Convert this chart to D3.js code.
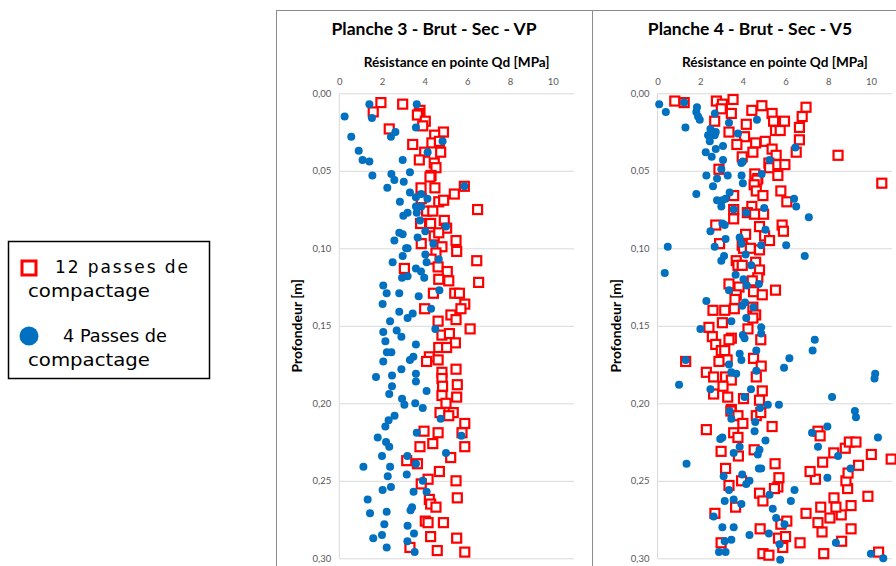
<!DOCTYPE html>
<html>
<head>
<meta charset="utf-8">
<script src="https://cdn.jsdelivr.net/npm/d3@7"></script>
<style>
  body { margin: 0; background: #fff; }
  svg { display: block; font-family: "Lato", "Liberation Sans", sans-serif; }
</style>
</head>
<body>
<svg id="chart" width="896" height="566"></svg>
<script>
// ---- data : [Qd (MPa), profondeur (m)] ----
var planche3_12passes = [
  [1.95,0.006],[2.97,0.007],[1.59,0.012],[3.78,0.011],[3.75,0.013],[3.66,0.014],[4.03,0.018],[3.91,0.021],
  [2.34,0.023],[4.88,0.025],[4.47,0.027],[4.34,0.032],[4.69,0.031],[3.44,0.033],[4.00,0.038],[4.75,0.038],
  [3.75,0.043],[4.45,0.045],[4.53,0.048],[4.30,0.053],[4.25,0.054],[3.83,0.061],[4.48,0.061],[5.86,0.060],
  [5.39,0.065],[4.66,0.070],[4.89,0.069],[3.84,0.068],[6.48,0.075],[4.09,0.076],[4.38,0.076],[4.92,0.082],
  [3.81,0.084],[4.28,0.084],[5.03,0.087],[4.45,0.092],[4.66,0.090],[5.47,0.095],[3.84,0.097],[4.81,0.099],
  [5.50,0.102],[4.53,0.103],[4.30,0.107],[6.44,0.108],
  [3.05,0.113],[4.63,0.112],[5.06,0.115],[4.66,0.120],[5.13,0.121],[6.53,0.122],[4.41,0.129],[5.41,0.129],
  [5.63,0.129],[5.88,0.136],[5.70,0.139],[4.00,0.139],[5.23,0.143],[5.47,0.146],[4.63,0.147],[6.13,0.152],
  [4.81,0.156],[5.16,0.155],[5.44,0.161],[4.66,0.164],[5.03,0.164],[4.22,0.170],[4.09,0.173],[4.63,0.172],
  [5.47,0.178],[4.81,0.180],[4.81,0.184],[5.53,0.188],[4.84,0.189],[4.81,0.195],[5.50,0.196],
  [5.00,0.200],[4.72,0.206],[5.34,0.206],[5.13,0.208],[5.88,0.213],[3.97,0.218],[4.63,0.219],[5.75,0.219],
  [4.38,0.226],[3.78,0.228],[5.88,0.228],[5.22,0.235],[3.16,0.237],[3.66,0.239],[4.69,0.244],[4.16,0.249],
  [5.47,0.250],[3.84,0.252],[5.53,0.261],[4.22,0.262],[4.28,0.265],[4.53,0.267],[4.03,0.276],[4.16,0.277],
  [4.88,0.277],[4.28,0.286],[5.50,0.287],[3.31,0.293],[4.59,0.295],[5.88,0.296]
];
var planche3_4passes = [
  [1.41,0.007],[0.25,0.015],[1.53,0.016],[3.63,0.007],[3.59,0.022],[0.56,0.028],[2.42,0.028],[2.63,0.025],
  [4.84,0.031],[0.91,0.037],[4.14,0.038],[1.09,0.043],[1.41,0.044],[2.97,0.043],[1.55,0.053],[2.44,0.052],
  [3.31,0.051],[2.58,0.056],[2.25,0.061],[3.02,0.057],[3.31,0.064],[3.59,0.067],[3.84,0.065],[4.13,0.068],
  [2.84,0.070],[3.59,0.073],[3.84,0.073],[3.20,0.077],[3.00,0.079],[3.63,0.077],[3.78,0.082],[5.00,0.086],
  [4.03,0.089],[2.81,0.090],[2.97,0.091],[2.58,0.095],[3.67,0.093],[4.41,0.097],[3.20,0.100],[3.13,0.100],
  [5.86,0.060],
  [2.97,0.105],[4.03,0.104],[2.50,0.109],[4.09,0.109],[3.59,0.113],[3.83,0.115],[3.98,0.119],[2.94,0.119],
  [3.20,0.118],[4.69,0.127],[2.06,0.124],[2.22,0.129],[2.81,0.129],[3.72,0.131],[2.03,0.136],[2.81,0.141],
  [3.20,0.145],[3.44,0.142],[4.30,0.139],[2.38,0.147],[4.50,0.152],[2.06,0.154],[2.69,0.153],[2.91,0.157],
  [2.16,0.160],[3.59,0.162],[2.23,0.167],[2.44,0.167],[3.31,0.172],[3.47,0.170],[2.06,0.173],[2.91,0.178],
  [1.72,0.183],[2.47,0.182],[3.59,0.181],[3.59,0.186],[2.47,0.189],[4.09,0.192],[2.34,0.194],[2.94,0.197],
  [4.66,0.107],
  [3.05,0.201],[3.56,0.200],[3.91,0.203],[2.59,0.208],[4.75,0.210],[2.31,0.211],[2.16,0.215],[3.63,0.219],
  [1.80,0.222],[5.72,0.221],[2.19,0.225],[2.34,0.228],[5.00,0.232],[2.00,0.234],[3.19,0.234],[3.59,0.239],
  [1.13,0.241],[2.38,0.241],[3.16,0.246],[2.27,0.247],[3.91,0.250],[2.42,0.254],[2.03,0.256],[3.48,0.257],
  [4.09,0.257],[1.33,0.262],[3.41,0.267],[3.34,0.269],[1.44,0.271],[2.22,0.270],[2.11,0.278],[3.20,0.279],
  [3.50,0.284],[2.00,0.285],[1.59,0.287],[3.19,0.289],[2.22,0.293],[3.53,0.296]
];
var planche4_12passes = [
  [0.81,0.005],[1.25,0.006],[2.76,0.005],[3.04,0.007],[3.54,0.004],[2.99,0.010],[3.46,0.013],[4.42,0.011],
  [4.89,0.008],[5.37,0.013],[6.96,0.009],[6.78,0.015],[5.44,0.018],[5.95,0.018],[2.68,0.018],[4.16,0.020],
  [5.53,0.024],[5.75,0.024],[3.35,0.025],[4.08,0.028],[6.65,0.022],[6.65,0.030],[4.60,0.032],[5.05,0.031],
  [3.72,0.033],[5.37,0.036],[4.47,0.038],[5.56,0.040],[6.50,0.038],[8.46,0.040],[3.97,0.041],[5.22,0.045],
  [5.25,0.048],[5.64,0.046],[5.97,0.046],[2.88,0.049],[4.56,0.052],[4.70,0.055],[4.66,0.056],[4.53,0.059],
  [5.64,0.053],[10.51,0.058],[4.63,0.063],[4.94,0.066],[3.57,0.066],[5.78,0.063],[6.06,0.070],[4.42,0.073],
  [3.57,0.075],[4.21,0.077],[4.55,0.078],[4.97,0.078],[3.57,0.081],[2.73,0.085],[4.78,0.086],[5.84,0.085],
  [5.90,0.089],[4.13,0.091],[5.02,0.092],
  [2.91,0.097],[3.97,0.098],[4.03,0.100],[4.35,0.100],[4.78,0.101],[5.25,0.095],[3.69,0.108],[3.77,0.111],
  [3.97,0.111],[4.60,0.109],[4.78,0.114],[4.70,0.119],[4.44,0.121],[3.35,0.123],[3.82,0.125],[3.69,0.130],
  [3.63,0.133],[4.50,0.128],[4.91,0.130],[5.53,0.127],[3.60,0.139],[2.60,0.140],[3.15,0.140],[4.47,0.138],
  [4.60,0.143],[4.47,0.145],[3.04,0.148],[2.41,0.151],[4.24,0.152],[2.57,0.157],[2.73,0.162],[3.46,0.158],
  [3.35,0.159],[4.84,0.159],[2.99,0.166],[3.15,0.166],[3.26,0.172],[2.88,0.173],[4.50,0.171],[4.86,0.176],
  [1.32,0.173],[2.29,0.180],[2.63,0.183],[3.19,0.183],[3.46,0.185],[4.63,0.183],[3.07,0.189],[4.91,0.192],
  [2.63,0.194],[3.29,0.196],[4.03,0.197],[4.78,0.198],
  [3.46,0.204],[3.44,0.205],[3.77,0.208],[4.00,0.213],[4.63,0.208],[4.84,0.206],[5.37,0.215],[2.29,0.217],
  [3.57,0.219],[3.77,0.222],[2.98,0.231],[3.79,0.234],[4.53,0.230],[5.51,0.239],[3.19,0.242],[3.35,0.253],
  [3.94,0.250],[5.69,0.248],[5.64,0.254],[5.48,0.255],[4.78,0.258],[4.94,0.263],[3.66,0.267],[2.69,0.271],
  [4.81,0.281],[5.78,0.278],[6.06,0.276],[5.67,0.287],[6.00,0.286],[5.87,0.293],[2.98,0.290],[4.94,0.297],
  [5.22,0.298],[6.68,0.290],[7.79,0.297],[8.63,0.289],[9.07,0.281],[7.71,0.283],[7.52,0.277],[8.08,0.274],
  [8.61,0.272],[6.96,0.271],[7.65,0.267],[8.27,0.261],[8.36,0.267],[9.07,0.266],[9.86,0.260],[8.91,0.255],
  [8.83,0.250],[8.93,0.245],[7.40,0.249],[7.15,0.244],[7.74,0.238],[9.42,0.240],[8.26,0.232],[8.80,0.229],
  [8.99,0.225],[9.30,0.225],[10.02,0.233],[10.95,0.236],[7.52,0.218],[7.62,0.221],[10.36,0.296]
];
var planche4_4passes = [
  [0.08,0.007],[0.39,0.012],[1.25,0.006],[1.85,0.009],[1.82,0.012],[1.90,0.015],[1.98,0.017],[2.69,0.013],
  [3.35,0.019],[4.66,0.017],[1.31,0.022],[2.48,0.023],[2.37,0.027],[2.68,0.027],[2.73,0.025],[2.45,0.031],
  [3.77,0.026],[3.07,0.034],[2.73,0.036],[2.26,0.038],[2.54,0.041],[3.07,0.043],[3.93,0.045],[4.00,0.044],
  [6.46,0.035],[5.25,0.043],[2.29,0.053],[2.79,0.055],[3.29,0.053],[3.94,0.053],[4.00,0.058],[2.60,0.060],
  [2.99,0.049],[4.88,0.052],[1.82,0.065],[3.38,0.064],[2.79,0.069],[3.04,0.069],[3.19,0.068],[2.99,0.073],
  [3.57,0.075],[4.16,0.077],[5.00,0.074],[6.40,0.068],[6.50,0.073],[7.09,0.080],[3.04,0.084],[3.15,0.085],
  [2.48,0.089],[3.19,0.094],[3.85,0.093],[5.06,0.088],[3.94,0.097],
  [0.48,0.099],[2.68,0.099],[4.86,0.098],[6.03,0.098],[6.90,0.105],[3.12,0.105],[2.99,0.108],[4.13,0.104],
  [4.39,0.111],[0.34,0.116],[3.66,0.117],[4.03,0.120],[4.19,0.124],[4.75,0.123],[3.35,0.127],[2.29,0.134],
  [4.10,0.135],[3.97,0.137],[4.50,0.138],[3.46,0.147],[4.16,0.145],[2.01,0.152],[4.86,0.151],[4.86,0.155],
  [4.00,0.156],[4.08,0.158],[7.37,0.159],[7.27,0.166],[4.63,0.166],[3.85,0.168],[3.93,0.172],[6.18,0.171],
  [5.93,0.177],[1.32,0.172],[3.35,0.175],[3.69,0.181],[4.63,0.179],[1.01,0.188],[2.48,0.191],[4.38,0.191],
  [4.08,0.196],[10.20,0.181],[10.17,0.184],[8.18,0.196],[3.46,0.180],
  [5.17,0.201],[5.69,0.201],[4.81,0.203],[3.38,0.205],[3.46,0.210],[4.58,0.212],[4.55,0.218],[2.94,0.223],
  [3.04,0.222],[5.06,0.224],[3.85,0.228],[4.78,0.230],[4.70,0.233],[3.57,0.232],[1.36,0.239],[4.75,0.242],
  [4.86,0.242],[3.97,0.246],[4.31,0.250],[4.16,0.252],[3.10,0.247],[3.35,0.256],[5.25,0.259],[6.42,0.256],
  [3.57,0.262],[3.15,0.263],[3.93,0.265],[6.25,0.263],[5.40,0.268],[5.56,0.274],[5.95,0.278],[2.63,0.273],
  [3.04,0.280],[3.57,0.280],[4.31,0.285],[5.22,0.284],[3.46,0.288],[3.15,0.289],[5.72,0.291],[2.88,0.296],
  [3.19,0.296],[5.75,0.301],[7.24,0.219],[7.96,0.215],[7.52,0.228],[8.46,0.234],[7.96,0.248],[9.05,0.242],
  [10.33,0.222],[9.25,0.205],[9.30,0.209],[8.36,0.290],[10.00,0.297],[10.58,0.300]
];

var titles = ["Planche 3 - Brut - Sec - VP", "Planche 4 - Brut - Sec - V5"];
var xTicks = [0, 2, 4, 6, 8, 10];
var yTicks = [0, 0.05, 0.10, 0.15, 0.20, 0.25, 0.30];
var legendLabels = [["12  passes  de", "compactage"], ["4 Passes de", "compactage"]];

var red = "#ff0000", blue = "#0070c0";

var panels = [
  { title: titles[0], left: 276, plotLeft: 339.3, p12: planche3_12passes, p4: planche3_4passes },
  { title: titles[1], left: 592, plotLeft: 657.5, p12: planche4_12passes, p4: planche4_4passes }
];

var svg = d3.select("#chart");
var fmtY = function(d) { return d3.format(".2f")(d).replace(".", ","); };

panels.forEach(function(p) {
  var g = svg.append("g");

  // chart frame
  g.append("rect")
    .attr("x", p.left + 0.5).attr("y", 10.5)
    .attr("width", 316).attr("height", 600)
    .attr("fill", "none").attr("stroke", "#8c8c8c");

  var x = d3.scaleLinear().domain([0, 11]).range([p.plotLeft, p.plotLeft + 11 * 21.34]);
  var y = d3.scaleLinear().domain([0, 0.3]).range([93.3, 558.3]);

  // gridlines
  g.append("g")
    .attr("transform", "translate(" + p.plotLeft + ",0)")
    .call(d3.axisLeft(y).tickValues(yTicks).tickSize(-(x.range()[1] - x.range()[0])).tickFormat(""))
    .call(function(s) { s.select(".domain").remove(); })
    .selectAll("line").attr("stroke", "#d9d9d9");

  // left axis line
  g.append("line")
    .attr("x1", p.plotLeft).attr("x2", p.plotLeft)
    .attr("y1", y(0)).attr("y2", y(0.3))
    .attr("stroke", "#d9d9d9");

  // y ticks
  var ya = g.append("g")
    .attr("transform", "translate(" + p.plotLeft + ",0)")
    .call(d3.axisLeft(y).tickValues(yTicks).tickSize(0).tickPadding(8).tickFormat(fmtY));
  ya.select(".domain").remove();
  ya.selectAll("text").attr("fill", "#595959").style("font-size", "9.5px").style("font-family", "Lato");

  // x ticks (top)
  var xa = g.append("g")
    .attr("transform", "translate(0," + y(0) + ")")
    .call(d3.axisTop(x).tickValues(xTicks).tickSize(0).tickPadding(8));
  xa.select(".domain").remove();
  xa.selectAll("text").attr("fill", "#595959").style("font-size", "9.5px").style("font-family", "Lato");

  // titles
  g.append("text")
    .attr("x", p.left + 158).attr("y", 35)
    .attr("text-anchor", "middle")
    .attr("font-weight", "bold").attr("font-size", 17.5).attr("fill", "#000")
    .text(p.title);

  g.append("text")
    .attr("x", (x.range()[0] + x.range()[1]) / 2).attr("y", 67)
    .attr("text-anchor", "middle")
    .attr("font-weight", "bold").attr("font-size", 13.6).attr("fill", "#000")
    .text("Résistance en pointe Qd [MPa]");

  g.append("text")
    .attr("transform", "translate(" + (p.plotLeft - 37) + "," + ((y(0) + y(0.3)) / 2) + ") rotate(-90)")
    .attr("text-anchor", "middle")
    .attr("font-weight", "bold").attr("font-size", 14).attr("fill", "#000")
    .text("Profondeur [m]");

  // 12 passes (red squares)
  g.append("g").selectAll("rect")
    .data(p.p12).enter().append("rect")
    .attr("x", function(d) { return x(d[0]) - 4.5; })
    .attr("y", function(d) { return y(d[1]) - 4.5; })
    .attr("width", 9).attr("height", 9)
    .attr("fill", "#fff").attr("stroke", red).attr("stroke-width", 2.2);

  // 4 passes (blue dots)
  g.append("g").selectAll("circle")
    .data(p.p4).enter().append("circle")
    .attr("cx", function(d) { return x(d[0]); })
    .attr("cy", function(d) { return y(d[1]); })
    .attr("r", 4)
    .attr("fill", blue);
});

// legend
var lg = svg.append("g").style("font-family", "'DejaVu Sans', sans-serif").attr("font-size", 17);
lg.append("rect")
  .attr("x", 8.5).attr("y", 241.5).attr("width", 201).attr("height", 137)
  .attr("fill", "#fff").attr("stroke", "#000").attr("stroke-width", 1.5);
lg.append("rect")
  .attr("x", 22).attr("y", 261).attr("width", 14).attr("height", 14)
  .attr("fill", "#fff").attr("stroke", red).attr("stroke-width", 3);
lg.append("circle").attr("cx", 29).attr("cy", 336).attr("r", 9.5).attr("fill", blue);

lg.append("text").attr("x", 55).attr("y", 273).attr("textLength", 133).attr("lengthAdjust", "spacing")
  .text(legendLabels[0][0]);
lg.append("text").attr("x", 28).attr("y", 297).attr("textLength", 122).attr("lengthAdjust", "spacingAndGlyphs")
  .text(legendLabels[0][1]);
lg.append("text").attr("x", 63).attr("y", 342).attr("textLength", 104).attr("lengthAdjust", "spacingAndGlyphs")
  .text(legendLabels[1][0]);
lg.append("text").attr("x", 28).attr("y", 366).attr("textLength", 122).attr("lengthAdjust", "spacingAndGlyphs")
  .text(legendLabels[1][1]);
</script>
</body>
</html>
